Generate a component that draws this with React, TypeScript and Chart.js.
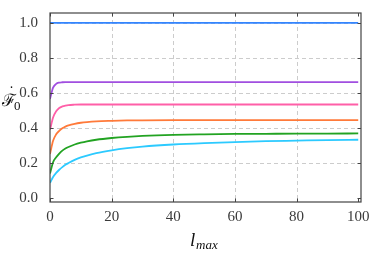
import React, { useEffect, useRef } from "react";
import { Chart, registerables } from "chart.js";

Chart.register(...registerables);

const lmax = [0, 1, 2, 3, 4, 5, 6, 8, 10, 12, 15, 20, 25, 30, 40, 50, 60, 70, 80, 90, 100];
const seriesBlue = [1, 1, 1, 1, 1, 1, 1, 1, 1, 1, 1, 1, 1, 1, 1, 1, 1, 1, 1, 1, 1];
const seriesPurple = [0.566, 0.63, 0.652, 0.659, 0.661, 0.662, 0.662, 0.662, 0.662, 0.662, 0.662, 0.662, 0.662, 0.662, 0.662, 0.662, 0.662, 0.662, 0.662, 0.662, 0.662];
const seriesPink = [0.39, 0.46, 0.495, 0.514, 0.523, 0.528, 0.531, 0.533, 0.534, 0.534, 0.534, 0.534, 0.534, 0.534, 0.534, 0.534, 0.534, 0.534, 0.534, 0.534, 0.534];
const seriesOrange = [0.252, 0.327, 0.364, 0.384, 0.398, 0.408, 0.415, 0.424, 0.43, 0.434, 0.438, 0.441, 0.443, 0.444, 0.445, 0.445, 0.445, 0.445, 0.445, 0.445, 0.445];
const seriesGreen = [0.14, 0.205, 0.233, 0.254, 0.271, 0.283, 0.292, 0.306, 0.316, 0.324, 0.333, 0.343, 0.35, 0.355, 0.361, 0.364, 0.366, 0.367, 0.368, 0.368, 0.369];
const seriesCyan = [0.087, 0.121, 0.144, 0.162, 0.177, 0.19, 0.2, 0.218, 0.232, 0.243, 0.257, 0.273, 0.285, 0.294, 0.306, 0.314, 0.32, 0.325, 0.328, 0.331, 0.333];

const xTicks = [0, 20, 40, 60, 80, 100];
const yTicks = [0, 0.2, 0.4, 0.6, 0.8, 1.0];

const series = [
  { data: seriesBlue, color: "#3385ff" },
  { data: seriesPurple, color: "#a14fe0" },
  { data: seriesPink, color: "#ff5fa8" },
  { data: seriesOrange, color: "#ff7a3a" },
  { data: seriesGreen, color: "#22a322" },
  { data: seriesCyan, color: "#2ccaff" },
];

const SERIF = "'Liberation Serif', 'DejaVu Serif', serif";

const frame = {
  id: "frame",
  beforeDatasetsDraw(chart: any) {
    const { ctx, chartArea: a, scales } = chart;
    const xs = scales.x, ys = scales.y;
    ctx.save();
    ctx.strokeStyle = "#cccccc";
    ctx.lineWidth = 1;
    ctx.setLineDash([4, 3]);
    for (const v of xTicks) {
      const px = Math.round(xs.getPixelForValue(v)) + 0.5;
      if (px <= a.left + 1 || px >= a.right - 3) continue;
      ctx.beginPath();
      ctx.moveTo(px, a.top);
      ctx.lineTo(px, a.bottom);
      ctx.stroke();
    }
    for (const v of yTicks) {
      if (v === 0) continue;
      const py = Math.round(ys.getPixelForValue(v)) + 0.5;
      ctx.beginPath();
      ctx.moveTo(a.left, py);
      ctx.lineTo(a.right, py);
      ctx.stroke();
    }
    ctx.restore();
  },
  afterDatasetsDraw(chart: any) {
    const { ctx, chartArea: a, scales } = chart;
    const xs = scales.x, ys = scales.y;
    ctx.save();
    ctx.strokeStyle = "#444444";
    ctx.lineWidth = 1.2;
    ctx.strokeRect(a.left, a.top, a.right - a.left, a.bottom - a.top);
    ctx.lineWidth = 1;
    for (const v of xTicks) {
      const px = Math.round(xs.getPixelForValue(v)) + 0.5;
      ctx.beginPath();
      ctx.moveTo(px, a.bottom);
      ctx.lineTo(px, a.bottom - 3.5);
      ctx.moveTo(px, a.top);
      ctx.lineTo(px, a.top + 3.5);
      ctx.stroke();
    }
    for (const v of yTicks) {
      const py = Math.round(ys.getPixelForValue(v)) + 0.5;
      ctx.beginPath();
      ctx.moveTo(a.left, py);
      ctx.lineTo(a.left + 3.5, py);
      ctx.moveTo(a.right, py);
      ctx.lineTo(a.right - 3.5, py);
      ctx.stroke();
    }
    // axis titles
    ctx.fillStyle = "#111111";
    ctx.textBaseline = "alphabetic";
    ctx.textAlign = "left";
    ctx.font = "17px 'DejaVu Serif', serif";
    ctx.fillText("\u2131", 2, 106);
    ctx.font = "14px 'DejaVu Serif', serif";
    ctx.fillText("\u02D9", 8, 98);
    ctx.font = "13px " + SERIF;
    ctx.fillText("0", 14, 110);
    ctx.font = "italic 19px " + SERIF;
    ctx.fillText("l", 190, 246);
    ctx.font = "italic 13px " + SERIF;
    ctx.fillText("max", 196, 249);
    ctx.restore();
  },
};

export default function App() {
  const ref = useRef<HTMLCanvasElement>(null);
  useEffect(() => {
    document.body.style.margin = "0";
    const chart = new Chart(ref.current!, {
      type: "line",
      data: {
        labels: lmax,
        datasets: series.map((s) => ({
          data: s.data.map((y, i) => ({ x: lmax[i], y })),
          borderColor: s.color,
          borderWidth: 1.8,
          pointRadius: 0,
          cubicInterpolationMode: "monotone" as const,
          fill: false,
        })),
      },
      options: {
        responsive: false,
        animation: false,
        layout: { padding: { left: 8, right: 13, top: 10, bottom: 0 } },
        plugins: { legend: { display: false }, tooltip: { enabled: false } },
        scales: {
          x: {
            type: "linear",
            min: 0,
            max: 100.9,
            grid: { display: false },
            border: { display: false },
            afterBuildTicks: (s: any) => {
              s.ticks = xTicks.map((v) => ({ value: v }));
            },
            afterFit: (s: any) => {
              s.height = 52;
            },
            ticks: {
              color: "#3a3a3a",
              font: { family: SERIF, size: 15 },
              padding: -2,
              maxRotation: 0,
              callback: (v: any) => String(v),
            },
          },
          y: {
            type: "linear",
            min: -0.022,
            max: 1.056,
            grid: { display: false },
            border: { display: false },
            afterBuildTicks: (s: any) => {
              s.ticks = yTicks.map((v) => ({ value: v }));
            },
            afterFit: (s: any) => {
              s.width = 42;
            },
            ticks: {
              color: "#3a3a3a",
              font: { family: SERIF, size: 15 },
              padding: 4,
              callback: (v: any) => Number(v).toFixed(1),
            },
          },
        },
      },
      plugins: [frame],
    });
    return () => chart.destroy();
  }, []);
  return <canvas ref={ref} width={374} height={254} style={{ display: "block" }} />;
}
